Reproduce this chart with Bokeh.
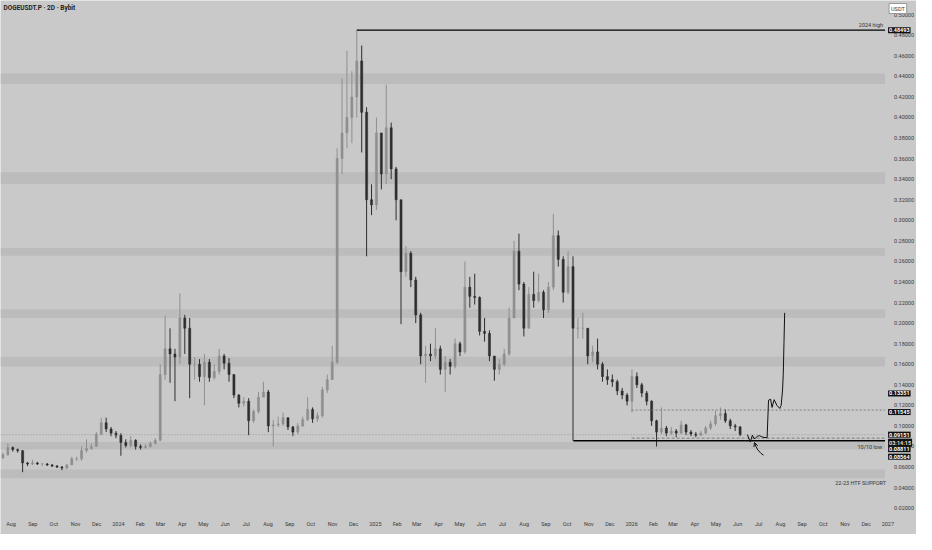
import numpy as np
import pandas as pd
from bokeh.plotting import figure
from bokeh.models import (Range1d, FixedTicker, PrintfTickFormatter, BoxAnnotation,
                          Label, ColumnDataSource, Arrow, OpenHead)
from bokeh.embed import file_html
from bokeh.resources import INLINE

# ---------------- data ----------------
first_candle = "2023-07-17"
candle_days = 7
open0 = 0.069
closes = [0.072, 0.079, 0.077, 0.076, 0.064, 0.063, 0.064, 0.063, 0.063, 0.062,
          0.061, 0.060, 0.059, 0.062, 0.068, 0.068, 0.076, 0.078, 0.080, 0.092,
          0.103, 0.097, 0.093, 0.091, 0.084, 0.081, 0.086, 0.080, 0.079, 0.080,
          0.083, 0.086, 0.150, 0.175, 0.170, 0.167, 0.205, 0.195, 0.160, 0.160,
          0.148, 0.162, 0.147, 0.153, 0.168, 0.161, 0.150, 0.130, 0.122, 0.124,
          0.105, 0.114, 0.128, 0.133, 0.100, 0.101, 0.102, 0.108, 0.099, 0.094,
          0.100, 0.106, 0.116, 0.107, 0.110, 0.135, 0.145, 0.162, 0.360, 0.385,
          0.400, 0.420, 0.455, 0.405, 0.320, 0.315, 0.385, 0.345, 0.390, 0.350,
          0.320, 0.250, 0.268, 0.242, 0.208, 0.168, 0.170, 0.168, 0.175, 0.155,
          0.162, 0.158, 0.180, 0.172, 0.235, 0.226, 0.225, 0.192, 0.190, 0.168,
          0.155, 0.160, 0.170, 0.205, 0.270, 0.238, 0.195, 0.228, 0.222, 0.230,
          0.213, 0.235, 0.285, 0.262, 0.230, 0.255, 0.195, 0.195, 0.195, 0.168,
          0.172, 0.160, 0.148, 0.145, 0.143, 0.134, 0.130, 0.124, 0.148, 0.140,
          0.132, 0.124, 0.105, 0.094, 0.098, 0.093, 0.095, 0.093, 0.101, 0.094,
          0.092, 0.091, 0.093, 0.098, 0.102, 0.110, 0.112, 0.105, 0.100, 0.099,
          0.0915]
highs = [0.074, 0.083, 0.080, 0.078, 0.076, 0.065, 0.067, 0.065, 0.064, 0.064,
         0.063, 0.062, 0.061, 0.063, 0.070, 0.070, 0.080, 0.087, 0.083, 0.094,
         0.108, 0.108, 0.099, 0.095, 0.093, 0.087, 0.090, 0.087, 0.082, 0.082,
         0.085, 0.088, 0.160, 0.207, 0.195, 0.175, 0.229, 0.208, 0.205, 0.167,
         0.165, 0.170, 0.165, 0.160, 0.175, 0.170, 0.166, 0.150, 0.131, 0.128,
         0.127, 0.116, 0.133, 0.143, 0.135, 0.106, 0.109, 0.113, 0.106, 0.100,
         0.103, 0.109, 0.128, 0.118, 0.113, 0.138, 0.150, 0.178, 0.370, 0.438,
         0.465, 0.445, 0.4849, 0.470, 0.410, 0.335, 0.400, 0.385, 0.432, 0.395,
         0.352, 0.320, 0.275, 0.270, 0.245, 0.210, 0.178, 0.180, 0.195, 0.178,
         0.168, 0.165, 0.185, 0.182, 0.260, 0.245, 0.248, 0.226, 0.205, 0.193,
         0.168, 0.165, 0.175, 0.215, 0.280, 0.287, 0.240, 0.235, 0.250, 0.248,
         0.232, 0.240, 0.306, 0.290, 0.265, 0.270, 0.265, 0.205, 0.210, 0.195,
         0.178, 0.185, 0.162, 0.155, 0.150, 0.145, 0.137, 0.132, 0.155, 0.152,
         0.142, 0.134, 0.125, 0.106, 0.118, 0.100, 0.099, 0.097, 0.105, 0.102,
         0.096, 0.094, 0.095, 0.100, 0.105, 0.115, 0.118, 0.116, 0.107, 0.102,
         0.100]
lows = [0.068, 0.071, 0.075, 0.074, 0.055, 0.061, 0.062, 0.062, 0.061, 0.061,
        0.060, 0.059, 0.057, 0.058, 0.062, 0.066, 0.066, 0.074, 0.077, 0.080,
        0.091, 0.094, 0.090, 0.088, 0.071, 0.079, 0.079, 0.077, 0.077, 0.078,
        0.079, 0.082, 0.085, 0.145, 0.142, 0.124, 0.160, 0.170, 0.127, 0.145,
        0.143, 0.120, 0.143, 0.145, 0.150, 0.155, 0.143, 0.127, 0.118, 0.119,
        0.091, 0.103, 0.112, 0.128, 0.094, 0.080, 0.099, 0.100, 0.096, 0.090,
        0.092, 0.099, 0.105, 0.103, 0.104, 0.108, 0.132, 0.145, 0.160, 0.345,
        0.370, 0.375, 0.400, 0.366, 0.265, 0.305, 0.310, 0.330, 0.335, 0.340,
        0.300, 0.199, 0.245, 0.235, 0.200, 0.160, 0.142, 0.163, 0.165, 0.150,
        0.133, 0.150, 0.156, 0.168, 0.170, 0.215, 0.218, 0.188, 0.182, 0.163,
        0.144, 0.150, 0.158, 0.168, 0.205, 0.232, 0.187, 0.195, 0.215, 0.220,
        0.205, 0.210, 0.232, 0.255, 0.220, 0.228, 0.0856, 0.185, 0.185, 0.160,
        0.162, 0.155, 0.143, 0.140, 0.138, 0.130, 0.126, 0.120, 0.113, 0.137,
        0.128, 0.120, 0.100, 0.080, 0.092, 0.090, 0.091, 0.089, 0.092, 0.091,
        0.090, 0.089, 0.090, 0.092, 0.096, 0.100, 0.106, 0.103, 0.097, 0.095,
        0.090]

# horizontal zones (bottom, top)
zone_bottoms = [0.4325, 0.3353, 0.2655, 0.2050, 0.1579, 0.0770, 0.0492]
zone_tops    = [0.4429, 0.3467, 0.2730, 0.2135, 0.1673, 0.0843, 0.0577]

high_2024 = 0.48493
low_1010 = 0.08564
crash_day = "2025-10-10"
levels_from = "2026-01-01"
level_dotted = 0.11545
level_dashed = 0.08811
last_price = 0.09151
proj_label = 0.13351
countdown = "03:14:15"

# hand-drawn projection path
proj_dates = ["2026-06-15", "2026-06-19", "2026-06-22", "2026-06-25", "2026-06-29",
              "2026-07-02", "2026-07-07", "2026-07-13", "2026-07-15", "2026-07-18",
              "2026-07-20", "2026-07-23", "2026-07-27", "2026-07-31", "2026-08-02",
              "2026-08-04", "2026-08-05", "2026-08-06", "2026-08-07"]
proj_prices = [0.0915, 0.0843, 0.0910, 0.0872, 0.0900, 0.0905, 0.0890, 0.0885, 0.1250,
               0.1260, 0.1180, 0.1255, 0.1200, 0.1170, 0.1200, 0.1350, 0.1500, 0.1800, 0.2100]
arrow_dates = ["2026-07-08", "2026-07-04", "2026-06-30", "2026-06-27"]
arrow_prices = [0.0715, 0.0735, 0.0765, 0.0800]

y_ticks = [round(0.02 * i, 2) for i in range(1, 26)]
month_labels = ["Aug", "Sep", "Oct", "Nov", "Dec",
                "2024", "Feb", "Mar", "Apr", "May", "Jun", "Jul", "Aug", "Sep", "Oct", "Nov", "Dec",
                "2025", "Feb", "Mar", "Apr", "May", "Jun", "Jul", "Aug", "Sep", "Oct", "Nov", "Dec",
                "2026", "Feb", "Mar", "Apr", "May", "Jun", "Jul", "Aug", "Sep", "Oct", "Nov", "Dec",
                "2027"]

# ---------------- build ----------------
BG = "#c9c9c9"
UP = "#8f8f8f"
DN = "#2e2e2e"
FONT = "Roboto"

def ms(ts):
    return pd.Timestamp(ts).value / 1e6

start = pd.Timestamp(first_candle)
n = len(closes)
t = [start + pd.Timedelta(days=candle_days * i + candle_days / 2) for i in range(n)]
opens = [open0] + closes[:-1]
colors = [UP if c >= o else DN for o, c in zip(opens, closes)]
src = ColumnDataSource(dict(
    t=t, o=opens, c=closes,
    h=[max(h, o, c) for h, o, c in zip(highs, opens, closes)],
    l=[min(l, o, c) for l, o, c in zip(lows, opens, closes)],
    color=colors))

x0 = pd.Timestamp("2023-07-17")
x1 = pd.Timestamp("2027-02-10 19:00")
xscale_end = pd.Timestamp("2026-12-28")   # where the price scale begins
y0, y1 = -0.0056, 0.5138
time_axis_at = 0.0150

p = figure(width=916, height=534, x_axis_type="datetime", y_axis_location="right",
           output_backend="svg", toolbar_location=None,
           x_range=Range1d(x0, x1), y_range=Range1d(y0, y1),
           min_border_left=0, min_border_top=0, min_border_right=0, min_border_bottom=0)
p.background_fill_color = BG
p.border_fill_color = BG
p.outline_line_color = None
p.grid.grid_line_color = None

for b, tp in zip(zone_bottoms, zone_tops):
    p.add_layout(BoxAnnotation(bottom=b, top=tp, left=ms(x0), right=ms(xscale_end),
                               fill_color="#b9b9b9", fill_alpha=0.8,
                               line_color=None, level="underlay"))

# candles
p.segment(x0="t", y0="l", x1="t", y1="h", color="color", line_width=1, source=src)
p.vbar(x="t", top="o", bottom="c", width=3.0 * 86400000, fill_color="color",
       line_color="color", line_width=0.5, source=src)

# levels
imax = int(np.argmax(highs))
p.line([t[imax], xscale_end], [high_2024, high_2024], color="black", line_width=1.2)
p.line([pd.Timestamp(crash_day), xscale_end], [low_1010, low_1010], color="black", line_width=1.5)
p.line([pd.Timestamp(levels_from), xscale_end], [level_dotted, level_dotted],
       color="#7c7c7c", line_width=1, line_dash="2 2")
p.line([pd.Timestamp(levels_from), xscale_end], [level_dashed, level_dashed],
       color="#7c7c7c", line_width=1, line_dash="3 2")
p.line([x0, xscale_end], [last_price, last_price], color="#8a8a8a", line_width=0.8,
       line_dash="1 2")

# projection and arrow
p.line([pd.Timestamp(d) for d in proj_dates], proj_prices, color="#111111", line_width=1)
p.line([pd.Timestamp(d) for d in arrow_dates], arrow_prices, color="#111111", line_width=1)
p.add_layout(Arrow(end=OpenHead(size=4, line_width=1, line_color="#111111"),
                   x_start=ms(arrow_dates[-1]), y_start=arrow_prices[-1],
                   x_end=ms("2026-06-25"), y_end=0.0838, line_color="#111111", line_width=1))

# axes (drawn inside the frame, TradingView style)
p.yaxis.ticker = FixedTicker(ticks=y_ticks)
p.yaxis.formatter = PrintfTickFormatter(format="%.5f")
p.yaxis.fixed_location = ms(xscale_end)
month_ticks = [ms(d) for d in pd.date_range("2023-08-01", periods=len(month_labels), freq="MS")]
p.xaxis.ticker = FixedTicker(ticks=month_ticks)
p.xaxis.major_label_overrides = {tk: lb for tk, lb in zip(month_ticks, month_labels)}
p.xaxis.fixed_location = time_axis_at
for ax in (p.xaxis, p.yaxis):
    ax.axis_line_color = None
    ax.major_tick_line_color = None
    ax.minor_tick_line_color = None
    ax.major_label_text_font_size = "5.5px"
    ax.major_label_text_color = "#3c3c3c"
    ax.major_label_text_font = FONT
p.yaxis.major_label_standoff = 3
p.xaxis.major_label_standoff = 2

# texts
def txt(x, y, text, **kw):
    p.add_layout(Label(x=x, y=y, text=text, text_font=FONT, **kw))

txt(ms(x0), y1, "DOGEUSDT.P · 2D · Bybit", x_offset=3, y_offset=-7,
    text_font_size="6.5px", text_font_style="bold", text_color="#222222",
    text_baseline="middle")
txt(ms(xscale_end), high_2024, "2024 high", x_offset=-2, y_offset=2, text_align="right",
    text_baseline="bottom", text_font_size="5.5px", text_color="#333333")
txt(ms(xscale_end), low_1010, "10/10 low", x_offset=-3, y_offset=-3, text_align="right",
    text_baseline="top", text_font_size="5.5px", text_color="#333333")
txt(ms(xscale_end), zone_bottoms[-1], "22-23 HTF SUPPORT", x_offset=1, y_offset=-2,
    text_align="right", text_baseline="top", text_font_size="5.5px", text_color="#333333")

def price_box(v, text, yoff, fg="white"):
    txt(ms(xscale_end), v, text, x_offset=3, y_offset=yoff, text_baseline="middle",
        text_font_size="5.5px", text_font_style="bold", text_color=fg,
        background_fill_color="#111111", padding=1)

price_box(high_2024, f"{high_2024:.5f}", 0)
price_box(proj_label, f"{proj_label:.5f}", -2)
price_box(level_dotted, f"{level_dotted:.5f}", -2)
price_box(last_price, f"{last_price:.5f}", 0)
price_box(last_price, countdown, -8, fg="#dddddd")
price_box(level_dashed, f"{level_dashed:.5f}", -11)
price_box(low_1010, f"{low_1010:.5f}", -16)

txt(ms(xscale_end), y1, "USDT", x_offset=4, y_offset=-3, text_baseline="top",
    text_font_size="5.5px", text_color="#333333", background_fill_color="white",
    border_line_color="#999999", padding=2)

open("out.html", "w").write(file_html(p, INLINE))
